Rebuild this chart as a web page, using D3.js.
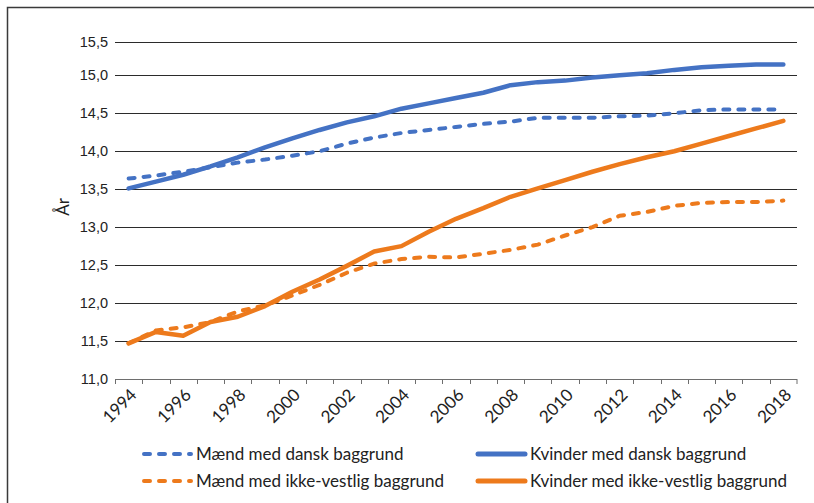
<!DOCTYPE html>
<html>
<head>
<meta charset="utf-8">
<script src="https://cdn.jsdelivr.net/npm/d3@7"></script>
<style>
body { margin:0; background:#fff; }
svg { display:block; }
</style>
</head>
<body>
<svg id="chart"></svg>
<script>
//----------data-------------
var years = [1994,1995,1996,1997,1998,1999,2000,2001,2002,2003,2004,2005,2006,
	2007,2008,2009,2010,2011,2012,2013,2014,2015,2016,2017,2018]
var maendDansk = [13.64,13.68,13.73,13.79,13.85,13.89,13.94,14.00,14.10,14.18,14.24,14.28,14.32,
	14.36,14.39,14.44,14.44,14.44,14.46,14.47,14.50,14.54,14.55,14.55,14.55]
var kvinderDansk = [13.51,13.60,13.69,13.80,13.92,14.05,14.17,14.28,14.38,14.46,14.56,14.63,14.70,
	14.77,14.87,14.91,14.93,14.97,15.00,15.03,15.08,15.12,15.14,15.16,15.16]
var maendIkkeVestlig = [11.47,11.64,11.68,11.75,11.89,11.97,12.10,12.24,12.40,12.52,12.58,12.61,12.60,
	12.65,12.70,12.77,12.89,13.00,13.15,13.20,13.28,13.32,13.33,13.33,13.35]
var kvinderIkkeVestlig = [11.47,11.62,11.57,11.75,11.82,11.96,12.15,12.31,12.49,12.68,12.75,12.94,13.11,
	13.25,13.40,13.51,13.62,13.73,13.83,13.92,14.00,14.10,14.20,14.30,14.40]
var yTicks = [11.0,11.5,12.0,12.5,13.0,13.5,14.0,14.5,15.0,15.5]
var xLabels = [1994,1996,1998,2000,2002,2004,2006,2008,2010,2012,2014,2016,2018]

var series = [
	{name:"Mænd med dansk baggrund", values:maendDansk, color:"#4472C4", dashed:true},
	{name:"Kvinder med dansk baggrund", values:kvinderDansk, color:"#4472C4", dashed:false},
	{name:"Mænd med ikke-vestlig baggrund", values:maendIkkeVestlig, color:"#ED7A1C", dashed:true},
	{name:"Kvinder med ikke-vestlig baggrund", values:kvinderIkkeVestlig, color:"#ED7A1C", dashed:false}
]

var humanist = "Lato, 'Open Sans', sans-serif"
var narrow = "'Liberation Sans Narrow', 'Liberation Sans', Arial, sans-serif"

//----------setup-------------
var screen = {width:814, height:503}
var svg = d3.select("#chart")
	.attr("width", screen.width)
	.attr("height", screen.height)

// frame round the figure (cut off on right and bottom)
svg.append("path")
	.attr("d", "M7.5,503 L7.5,7.5 L814,7.5")
	.attr("fill","none")
	.attr("stroke","#3a3a3a")
	.attr("stroke-width",1.5)

var plot = {left:115, right:797, top:41.5, bottom:379}

var xScale = d3.scaleBand()
	.domain(years)
	.range([plot.left, plot.right])

var xPos = function(year) { return xScale(year) + xScale.bandwidth()/2 }

// the 15,5 line sits a bit closer in the original
var yScale = d3.scaleLinear()
	.domain([11, 15, 15.5])
	.range([plot.bottom, 75.3, plot.top])

//---------gridlines---------
svg.append("g")
	.selectAll("line")
	.data(yTicks.slice(1))
	.enter()
	.append("line")
	.attr("x1", plot.left)
	.attr("x2", plot.right)
	.attr("y1", function(d){ return Math.round(yScale(d)) + 0.5 })
	.attr("y2", function(d){ return Math.round(yScale(d)) + 0.5 })
	.attr("stroke","#2b2b2b")
	.attr("stroke-width",1)

//---------y labels---------
svg.append("g")
	.selectAll("text")
	.data(yTicks)
	.enter()
	.append("text")
	.attr("x", 108)
	.attr("y", function(d){ return yScale(d) })
	.attr("dy","0.35em")
	.attr("text-anchor","end")
	.attr("font-family", narrow)
	.attr("font-size", 14.5)
	.attr("fill","#222")
	.text(function(d){ return d3.format(".1f")(d).replace(".", ",") })

//---------x axis---------
var xAxis = svg.append("g")
xAxis.append("line")
	.attr("x1", plot.left)
	.attr("x2", plot.right)
	.attr("y1", plot.bottom + 0.5)
	.attr("y2", plot.bottom + 0.5)
	.attr("stroke","#6e6e6e")
	.attr("stroke-width",1)
xAxis.selectAll(".tick")
	.data(years.concat(["end"]))
	.enter()
	.append("line")
	.attr("x1", function(d){ return d == "end" ? plot.right : Math.round(xScale(d)) + 0.5 })
	.attr("x2", function(d){ return d == "end" ? plot.right : Math.round(xScale(d)) + 0.5 })
	.attr("y1", plot.bottom)
	.attr("y2", plot.bottom + 5)
	.attr("stroke","#6e6e6e")
	.attr("stroke-width",1)

xAxis.selectAll("text")
	.data(xLabels)
	.enter()
	.append("text")
	.attr("transform", function(d){ return "translate(" + (xPos(d) + 9) + "," + 396 + ") rotate(-45)" })
	.attr("text-anchor","end")
	.attr("font-family", humanist)
	.attr("font-size", 17)
	.attr("fill","#222")
	.text(function(d){ return d })

// axis title
svg.append("text")
	.attr("transform","translate(69,207) rotate(-90)")
	.attr("text-anchor","middle")
	.attr("font-family", humanist)
	.attr("font-size", 17)
	.attr("fill","#222")
	.text("År")

//---------lines---------
var line = d3.line()
	.x(function(d,i){ return xPos(years[i]) })
	.y(function(d){ return yScale(d) })

svg.append("g")
	.selectAll("path")
	.data(series)
	.enter()
	.append("path")
	.attr("d", function(s){ return line(s.values) })
	.attr("fill","none")
	.attr("stroke", function(s){ return s.color })
	.attr("stroke-width", function(s){ return s.dashed ? 4 : 4.5 })
	.attr("stroke-dasharray", function(s){ return s.dashed ? "6,9" : null })
	.attr("stroke-linecap","round")
	.attr("stroke-linejoin","round")

//---------legend---------
var legendPos = [
	{x:142, y:454}, {x:476, y:454},
	{x:142, y:481}, {x:476, y:481}
]
var legend = svg.append("g")
	.selectAll("g")
	.data(series)
	.enter()
	.append("g")
	.attr("transform", function(s,i){ return "translate(" + legendPos[i].x + "," + legendPos[i].y + ")" })

legend.append("line")
	.attr("x1", 2)
	.attr("x2", 49)
	.attr("stroke", function(s){ return s.color })
	.attr("stroke-width", function(s){ return s.dashed ? 4 : 5 })
	.attr("stroke-dasharray", function(s){ return s.dashed ? "6,9" : null })
	.attr("stroke-linecap","round")

legend.append("text")
	.attr("x", 54)
	.attr("dy","0.35em")
	.attr("font-family", humanist)
	.attr("font-size", 17)
	.attr("fill","#222")
	.text(function(s){ return s.name })
</script>
</body>
</html>
